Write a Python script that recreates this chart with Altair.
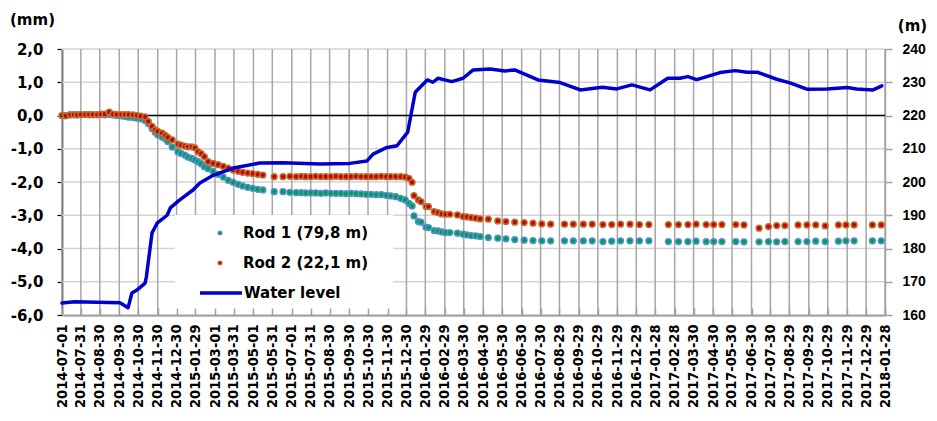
import altair as alt
import pandas as pd

# ---------------- data ----------------
START = "2014-07-01"

tick_labels = [
    "2014-07-01", "2014-07-31", "2014-08-30", "2014-09-30", "2014-10-30", "2014-11-30",
    "2014-12-30", "2015-01-29", "2015-03-01", "2015-03-31", "2015-05-01", "2015-05-31",
    "2015-07-01", "2015-07-31", "2015-08-30", "2015-09-30", "2015-10-30", "2015-11-30",
    "2015-12-30", "2016-01-29", "2016-02-29", "2016-03-30", "2016-04-30", "2016-05-30",
    "2016-06-30", "2016-07-30", "2016-08-29", "2016-09-29", "2016-10-29", "2016-11-29",
    "2016-12-29", "2017-01-28", "2017-02-28", "2017-03-30", "2017-04-30", "2017-05-30",
    "2017-06-30", "2017-07-30", "2017-08-29", "2017-09-29", "2017-10-29", "2017-11-29",
    "2017-12-29", "2018-01-28",
]

# measurement days (days since 2014-07-01)
rod_day = [
    0, 6, 13, 19, 24, 30, 37, 43, 49, 56, 62, 68, 75, 81, 87, 94, 100, 106, 113, 119, 125,
    132, 137, 143, 148, 152, 159, 164, 168, 175, 184, 189, 195, 200, 206, 211, 216, 221, 226,
    232, 240, 248, 256, 264, 272, 280, 287, 295, 303, 311, 319, 337, 351, 362, 372, 380, 387,
    395, 403, 411, 419, 427, 435, 443, 451, 459, 467, 475, 483, 491, 499, 507, 515, 522, 530,
    538, 545, 551,
    556, 559, 566, 570, 578, 582, 591, 597, 603, 609, 616, 628, 637, 643, 650, 657, 664, 677,
    692, 705, 719, 734, 748, 762, 776, 798, 812, 828, 842,
    859, 873, 887, 902, 917, 932, 963, 979, 994, 1007, 1023, 1035, 1048, 1070, 1083, 1107,
    1122, 1135, 1148, 1169, 1183, 1197, 1212, 1233, 1245, 1258, 1287, 1301,
]

rod1_mm = [
    0.00, 0.00, 0.02, 0.02, 0.02, 0.02, 0.03, 0.02, 0.02, 0.02, 0.03, 0.02, 0.03, 0.02, 0.00,
    -0.01, -0.03, -0.05, -0.06, -0.08, -0.10,
    -0.15, -0.24, -0.39, -0.50, -0.58, -0.65, -0.70, -0.78, -0.95, -1.09, -1.14, -1.19, -1.25,
    -1.29, -1.34, -1.39, -1.45, -1.54,
    -1.60, -1.68, -1.77, -1.85, -1.95, -2.01, -2.07, -2.12, -2.16, -2.19, -2.22, -2.24, -2.29,
    -2.29, -2.31, -2.32, -2.32, -2.33, -2.33, -2.33, -2.34, -2.33, -2.34, -2.34, -2.34, -2.35,
    -2.34, -2.35, -2.36, -2.37, -2.37, -2.38, -2.38, -2.40, -2.42, -2.44, -2.49, -2.54, -2.64,
    -2.72, -3.02, -3.19, -3.21, -3.36, -3.37, -3.46, -3.47, -3.50, -3.52, -3.52, -3.54, -3.57,
    -3.59, -3.61, -3.62, -3.64, -3.67, -3.69, -3.71, -3.73, -3.75, -3.76, -3.77, -3.77, -3.77,
    -3.77, -3.77, -3.77,
    -3.79, -3.78, -3.77, -3.77, -3.77, -3.77, -3.79, -3.79, -3.79, -3.78, -3.79, -3.79, -3.79,
    -3.79, -3.80, -3.80, -3.79, -3.80, -3.79, -3.79, -3.79, -3.78, -3.79, -3.78, -3.77, -3.77,
    -3.77, -3.77,
]

rod2_mm = [
    0.00, -0.01, 0.02, 0.03, 0.02, 0.03, 0.03, 0.03, 0.03, 0.03, 0.04, 0.04, 0.10, 0.04, 0.03,
    0.03, 0.03, 0.03, 0.02, 0.00, -0.02,
    -0.04, -0.18, -0.33, -0.43, -0.48, -0.53, -0.60, -0.66, -0.73, -0.86, -0.89, -0.92, -0.94,
    -0.94, -0.97, -1.09, -1.15, -1.24,
    -1.39, -1.44, -1.48, -1.53, -1.58, -1.64, -1.68, -1.71, -1.73, -1.75, -1.77, -1.79, -1.84,
    -1.84, -1.83, -1.84, -1.83, -1.84, -1.84, -1.83, -1.84, -1.84, -1.84, -1.83, -1.84, -1.84,
    -1.84, -1.83, -1.84, -1.84, -1.84, -1.84, -1.83, -1.84, -1.84, -1.84, -1.84, -1.85, -1.89,
    -2.01, -2.41, -2.54, -2.59, -2.74, -2.74, -2.89, -2.92, -2.96, -2.97, -2.97, -2.99, -3.04,
    -3.05, -3.07, -3.09, -3.11, -3.12, -3.17, -3.19, -3.21, -3.22, -3.24, -3.26, -3.27, -3.27,
    -3.27, -3.27, -3.27,
    -3.28, -3.28, -3.27, -3.27, -3.28, -3.28, -3.28, -3.28, -3.28, -3.27, -3.28, -3.28, -3.28,
    -3.28, -3.29, -3.39, -3.34, -3.31, -3.31, -3.29, -3.29, -3.29, -3.32, -3.29, -3.29, -3.29,
    -3.29, -3.29,
]

water_day = [
    0, 20, 92, 105, 111, 119, 132, 134, 143, 151, 167, 172, 187, 208, 219, 240, 272, 314, 351,
    410, 430, 457, 484, 494, 516, 532, 549, 554, 561, 580, 589, 597, 619, 637, 653, 680, 703,
    719, 756, 791, 823, 858, 881, 905, 934, 962, 981, 994, 1008, 1045, 1069, 1088, 1105, 1135,
    1156, 1183, 1215, 1247, 1262, 1288, 1302,
]
water_m = [
    163.6, 164.0, 163.7, 162.2, 166.6, 167.5, 169.6, 171.5, 184.7, 187.6, 190.0, 192.2, 194.6,
    197.6, 199.7, 202.0, 204.2, 205.7, 205.8, 205.4, 205.5, 205.6, 206.3, 208.4, 210.4, 210.9,
    215.0, 220.0, 227.0, 230.7, 230.0, 231.2, 230.2, 231.2, 233.7, 234.0, 233.4, 233.7, 230.7,
    229.9, 227.7, 228.5, 228.0, 229.2, 227.7, 231.2, 231.2, 231.7, 230.8, 232.9, 233.5, 233.0,
    233.0, 230.9, 229.8, 227.9, 228.0, 228.4, 228.0, 227.7, 228.9,
]

legend_labels = ["Rod 1 (79,8 m)", "Rod 2 (22,1 m)", "Water level"]
mm_ticks = [-6, -5, -4, -3, -2, -1, 0, 1, 2]
m_ticks = [160, 170, 180, 190, 200, 210, 220, 230, 240]

# ---------------- build ----------------
t0 = pd.Timestamp(START)
tick_day = [int((pd.Timestamp(s) - t0).days) for s in tick_labels]
end_day = tick_day[-1]

rods = pd.DataFrame({"day": rod_day, "rod1": rod1_mm, "rod2": rod2_mm})
water = pd.DataFrame({"day": water_day, "level": water_m})
ticks_df = pd.DataFrame({"day": tick_day})
mm_df = pd.DataFrame({"v": mm_ticks})
one = pd.DataFrame({"k": [0]})

W, H = 823, 266
BOLD = "DejaVu Sans"
NARROW = "Liberation Sans Narrow, Liberation Sans"

x_scale = alt.Scale(domain=[0, end_day], nice=False, zero=False)
mm_scale = alt.Scale(domain=[-6, 2], nice=False, zero=False)
m_scale = alt.Scale(domain=[160, 240], nice=False, zero=False)

x_label_expr = "utcFormat(utc(2014, 6, 1 + datum.value), '%Y-%m-%d')"
mm_label_expr = ("(datum.value < 0 ? '-' : '') + "
                 "replace(format(abs(datum.value), '.1f'), '.', ',')")

x_axis_main = alt.Axis(
    orient="bottom", values=tick_day, labelExpr=x_label_expr, labelAngle=-90,
    labelFont="DejaVu Sans Condensed, DejaVu Sans", labelFontWeight="bold",
    labelFontSize=14.5, labelColor="black", labelPadding=9, labelOverlap=False,
    labelFlush=False, labelBound=False, ticks=False, tickSize=0, grid=False,
    domainColor="#000000", domainWidth=1.5, title=None,
)
x_axis_ticks = alt.Axis(
    orient="top", offset=-H, values=tick_day, labels=False, grid=False, domain=False,
    ticks=True, tickSize=7, tickColor="#a0a0a0", tickWidth=1.5, zindex=2, title=None,
)
y_axis_left = alt.Axis(
    orient="left", values=mm_ticks, labelExpr=mm_label_expr, grid=False,
    domainColor="#000000", domainWidth=1.5,
    tickColor="#000000", tickSize=5, tickWidth=1.2, labelPadding=14,
    labelFont=BOLD, labelFontWeight="bold", labelFontSize=15, labelColor="black",
    title="(mm)", titleAngle=0, titleX=-30, titleY=-25, titleAlign="center",
    titleBaseline="alphabetic", titleFont=BOLD, titleFontWeight="bold",
    titleFontSize=15, titleColor="black",
)
y_axis_right = alt.Axis(
    orient="right", values=m_ticks, grid=False, domainColor="#a0a0a0", domainWidth=1.5,
    tickColor="#a0a0a0", tickSize=7, tickWidth=1.5, labelPadding=10,
    labelFont=NARROW, labelFontWeight="bold", labelFontSize=14, labelColor="black",
    title="(m)", titleAngle=0, titleX=27, titleY=-19, titleAlign="center",
    titleBaseline="alphabetic", titleFont=BOLD, titleFontWeight="bold",
    titleFontSize=15, titleColor="black",
)

# gridlines drawn from the tick values through the chart's scales
grid_h = alt.Chart(mm_df).mark_rule(color="#d4d4d4", strokeWidth=1.5).encode(
    y=alt.Y("v:Q", scale=mm_scale, axis=None)
)
grid_v = alt.Chart(ticks_df).mark_rule(color="#a6a6a6", strokeWidth=1.5).encode(
    x=alt.X("day:Q", scale=x_scale, axis=None)
)
zero_rule = alt.Chart(one).mark_rule(color="#000000", strokeWidth=1.5).encode(
    y=alt.Y("z:Q", scale=mm_scale, axis=None)
).transform_calculate(z="0")

rod1_layer = alt.Chart(rods).mark_circle(
    size=33, fill="#00a040", stroke="#4f8fd8", strokeWidth=1.5, opacity=1
).encode(
    x=alt.X("day:Q", scale=x_scale, axis=x_axis_main),
    y=alt.Y("rod1:Q", scale=mm_scale, axis=y_axis_left),
)

rod2_layer = alt.Chart(rods).mark_circle(
    size=33, fill="#cc0000", stroke="#b87333", strokeWidth=1.5, opacity=1
).encode(
    x=alt.X("day:Q", scale=x_scale, axis=None),
    y=alt.Y("rod2:Q", scale=mm_scale, axis=None),
)

water_layer = alt.Chart(water).mark_line(
    color="#0000cd", strokeWidth=3.5, strokeJoin="round", strokeCap="round"
).encode(
    x=alt.X("day:Q", scale=x_scale, axis=x_axis_ticks),
    y=alt.Y("level:Q", scale=m_scale, axis=y_axis_right),
)

# legend box (drawn by hand, like the reference's boxed legend)
leg_box = alt.Chart(one).mark_rect(fill="white").encode(
    x=alt.value(113), x2=alt.value(331), y=alt.value(166), y2=alt.value(265)
)
leg_dot1 = alt.Chart(one).mark_circle(
    size=16, fill="#00a040", stroke="#4f8fd8", strokeWidth=1.2, opacity=1
).encode(x=alt.value(158), y=alt.value(184))
leg_dot2 = alt.Chart(one).mark_circle(
    size=16, fill="#cc0000", stroke="#b87333", strokeWidth=1.2, opacity=1
).encode(x=alt.value(158), y=alt.value(214))
leg_line = alt.Chart(one).mark_rule(color="#0000cd", strokeWidth=3.5).encode(
    x=alt.value(138), x2=alt.value(180), y=alt.value(244)
)
text_style = dict(align="left", baseline="middle", font=BOLD, fontWeight="bold",
                  fontSize=15, color="black")
leg_t1 = alt.Chart(one).mark_text(**text_style).encode(
    x=alt.value(181), y=alt.value(184), text=alt.value(legend_labels[0]))
leg_t2 = alt.Chart(one).mark_text(**text_style).encode(
    x=alt.value(181), y=alt.value(214), text=alt.value(legend_labels[1]))
leg_t3 = alt.Chart(one).mark_text(**text_style).encode(
    x=alt.value(182), y=alt.value(244), text=alt.value(legend_labels[2]))

chart = alt.layer(
    grid_h, grid_v, zero_rule, rod1_layer, rod2_layer, water_layer,
    leg_box, leg_dot1, leg_dot2, leg_line, leg_t1, leg_t2, leg_t3,
).resolve_scale(y="independent", x="shared").resolve_axis(
    x="independent", y="independent"
).properties(
    width=W, height=H,
    autosize=alt.AutoSizeParams(type="none"),
    padding={"left": 54, "top": 41, "right": 44, "bottom": 98},
    background="white",
).configure_view(stroke=None)

chart.save("out.html", embed_options={"renderer": "svg", "actions": False})
